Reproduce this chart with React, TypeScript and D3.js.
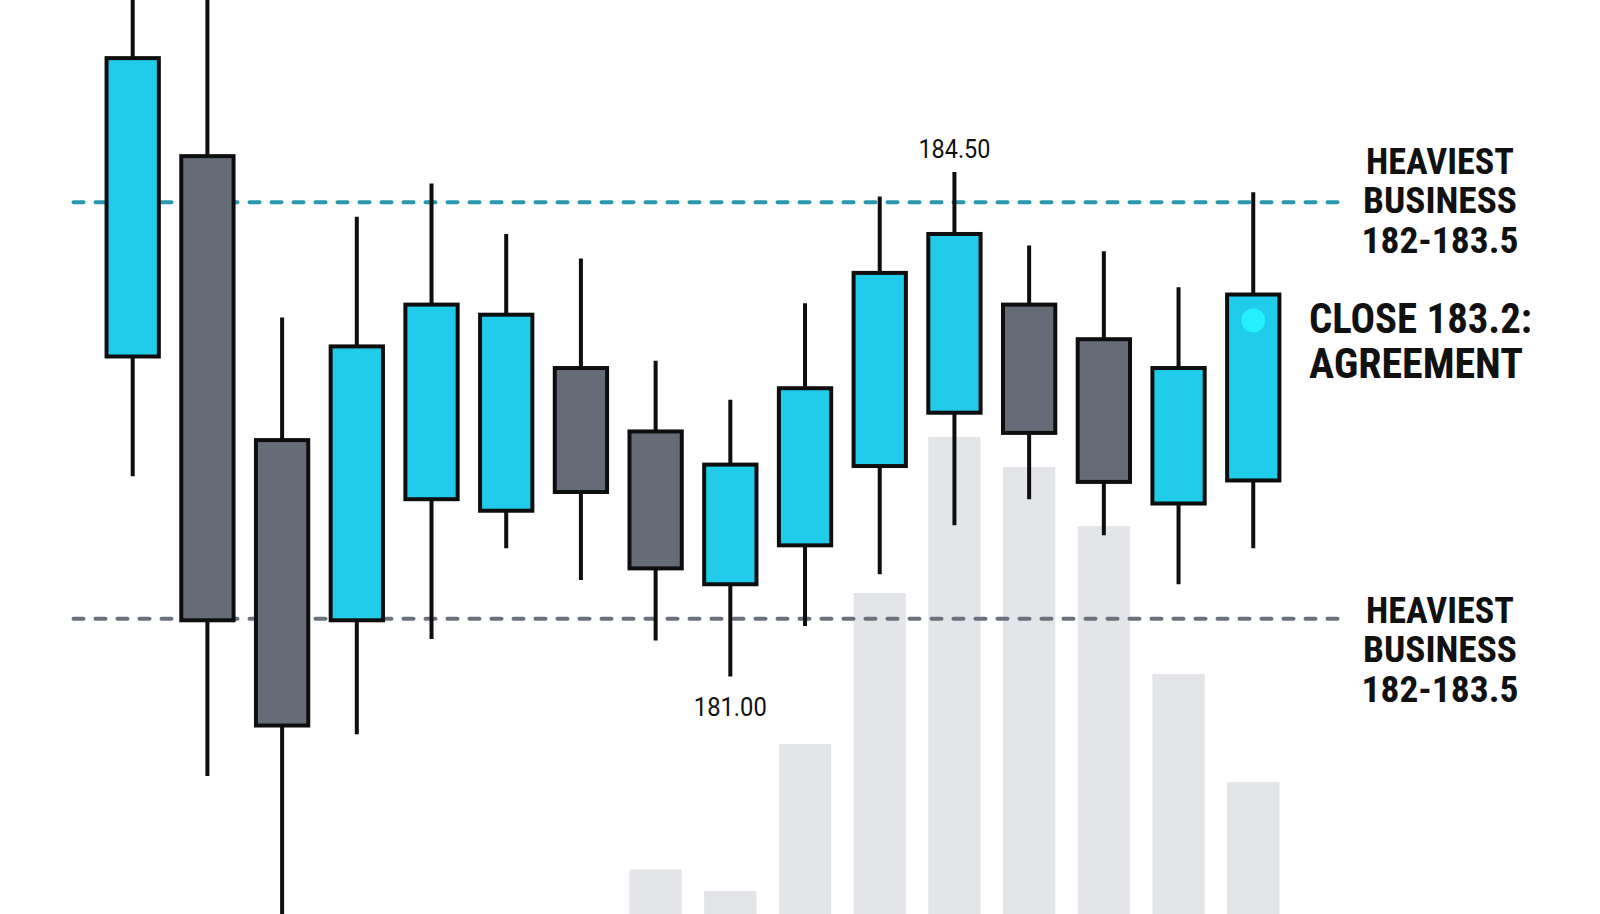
import React from "react";
import * as d3 from "d3";

const categories = ["C1","C2","C3","C4","C5","C6","C7","C8","C9","C10","C11","C12","C13","C14","C15","C16"];
const opens  = [183.22, 184.61, 182.64, 181.39, 182.23, 182.15, 183.14, 182.70, 181.64, 181.91, 182.46, 182.83, 183.58, 183.34, 182.20, 182.36];
const closes = [185.29, 181.39, 180.66, 183.29, 183.58, 183.51, 182.28, 181.75, 182.47, 183.00, 183.80, 184.07, 182.69, 182.35, 183.14, 183.65];
const highs  = [186.00, 186.20, 183.49, 184.19, 184.42, 184.07, 183.90, 183.19, 182.92, 183.59, 184.33, 184.50, 183.99, 183.95, 183.70, 184.36];
const lows   = [182.39, 180.31, 179.20, 180.60, 181.26, 181.89, 181.67, 181.25, 181.00, 181.35, 181.71, 182.05, 182.23, 181.98, 181.64, 181.89];
const volumes = [0, 0, 0, 0, 0, 0, 0, 89, 46, 340, 642, 954, 894, 776, 480, 264];

const upperLevel = 184.29;
const lowerLevel = 181.40;
const closeMarker = 183.47;
const highLabel = { index: 11, value: 184.5, text: "184.50" };
const lowLabel = { index: 8, value: 181.0, text: "181.00" };
const levelLabelLines = ["HEAVIEST", "BUSINESS", "182-183.5"];
const closeLabelLines = ["CLOSE 183.2:", "AGREEMENT"];

const W = 1600, H = 914;
const CYAN = "#21CBEA";
const GRAY = "#656C78";
const INK = "#0e0e0e";

export default function App() {
  const x = d3.scaleBand<string>().domain(categories).range([95.35, 1290.6]).paddingInner(0.3).paddingOuter(0.15);
  const bw = x.bandwidth();
  const y = d3.scaleLinear().domain([181, 184.5]).range([676.5, 172]);
  const yv = d3.scaleLinear().domain([0, 1000]).range([914, 414]);
  const cx = (i: number) => (x(categories[i]) as number) + bw / 2;

  const lineX0 = 73.5, lineX1 = 1345;
  const condensed = "'Roboto Condensed', 'Liberation Sans Narrow', 'DejaVu Sans Condensed', Roboto, 'Liberation Sans', sans-serif";

  const topBaselines = [174.3, 213.3, 253.3];
  const topWidths = [148, 154, 157];
  const botBaselines = [623.3, 662, 701.7];

  return (
    <svg width={W} height={H} style={{ position: "absolute", left: 0, top: 0, display: "block", background: "#fff" }}>
      <rect width={W} height={H} fill="#fff" />
      {/* volume bars */}
      <g>
        {volumes.map((v, i) => v > 0 ? (
          <rect key={i} x={x(categories[i])} y={yv(v)} width={bw} height={yv(0) - yv(v)} fill="#e3e5e8" />
        ) : null)}
      </g>
      {/* levels */}
      <line x1={lineX0} x2={lineX1} y1={y(upperLevel)} y2={y(upperLevel)} stroke="#2A97AE" strokeWidth={4} strokeDasharray="10 12" strokeLinecap="round" />
      <line x1={lineX0} x2={lineX1} y1={y(lowerLevel)} y2={y(lowerLevel)} stroke="#6B717D" strokeWidth={4} strokeDasharray="10 12" strokeLinecap="round" />
      {/* candles */}
      <g>
        {categories.map((c, i) => {
          const up = closes[i] >= opens[i];
          const top = y(Math.max(opens[i], closes[i]));
          const bot = y(Math.min(opens[i], closes[i]));
          return (
            <g key={c}>
              <line x1={cx(i)} x2={cx(i)} y1={y(highs[i])} y2={y(lows[i])} stroke={INK} strokeWidth={4} />
              <rect x={x(c)} y={top} width={bw} height={bot - top} fill={up ? CYAN : GRAY} stroke={INK} strokeWidth={4} />
            </g>
          );
        })}
      </g>
      <circle cx={cx(15)} cy={y(closeMarker)} r={12} fill="#22F0FC" />
      {/* price labels */}
      <text x={cx(highLabel.index)} y={158} textAnchor="middle" fontFamily="Roboto, 'Liberation Sans', sans-serif" fontSize={26} fill="#111" textLength={72} lengthAdjust="spacingAndGlyphs">{highLabel.text}</text>
      <text x={cx(lowLabel.index)} y={716} textAnchor="middle" fontFamily="Roboto, 'Liberation Sans', sans-serif" fontSize={26} fill="#111" textLength={73} lengthAdjust="spacingAndGlyphs">{lowLabel.text}</text>
      {/* level labels */}
      {levelLabelLines.map((t, k) => (
        <text key={"t" + k} x={1440} y={topBaselines[k]} textAnchor="middle" fontFamily={condensed} fontWeight={700} fontSize={37} fill="#111" textLength={topWidths[k]} lengthAdjust="spacingAndGlyphs">{t}</text>
      ))}
      {levelLabelLines.map((t, k) => (
        <text key={"b" + k} x={1440} y={botBaselines[k]} textAnchor="middle" fontFamily={condensed} fontWeight={700} fontSize={37} fill="#111" textLength={topWidths[k]} lengthAdjust="spacingAndGlyphs">{t}</text>
      ))}
      <text x={1309} y={333.3} fontFamily={condensed} fontWeight={700} fontSize={42} fill="#111" textLength={223} lengthAdjust="spacingAndGlyphs">{closeLabelLines[0]}</text>
      <text x={1309} y={378.3} fontFamily={condensed} fontWeight={700} fontSize={42} fill="#111" textLength={214} lengthAdjust="spacingAndGlyphs">{closeLabelLines[1]}</text>
    </svg>
  );
}
